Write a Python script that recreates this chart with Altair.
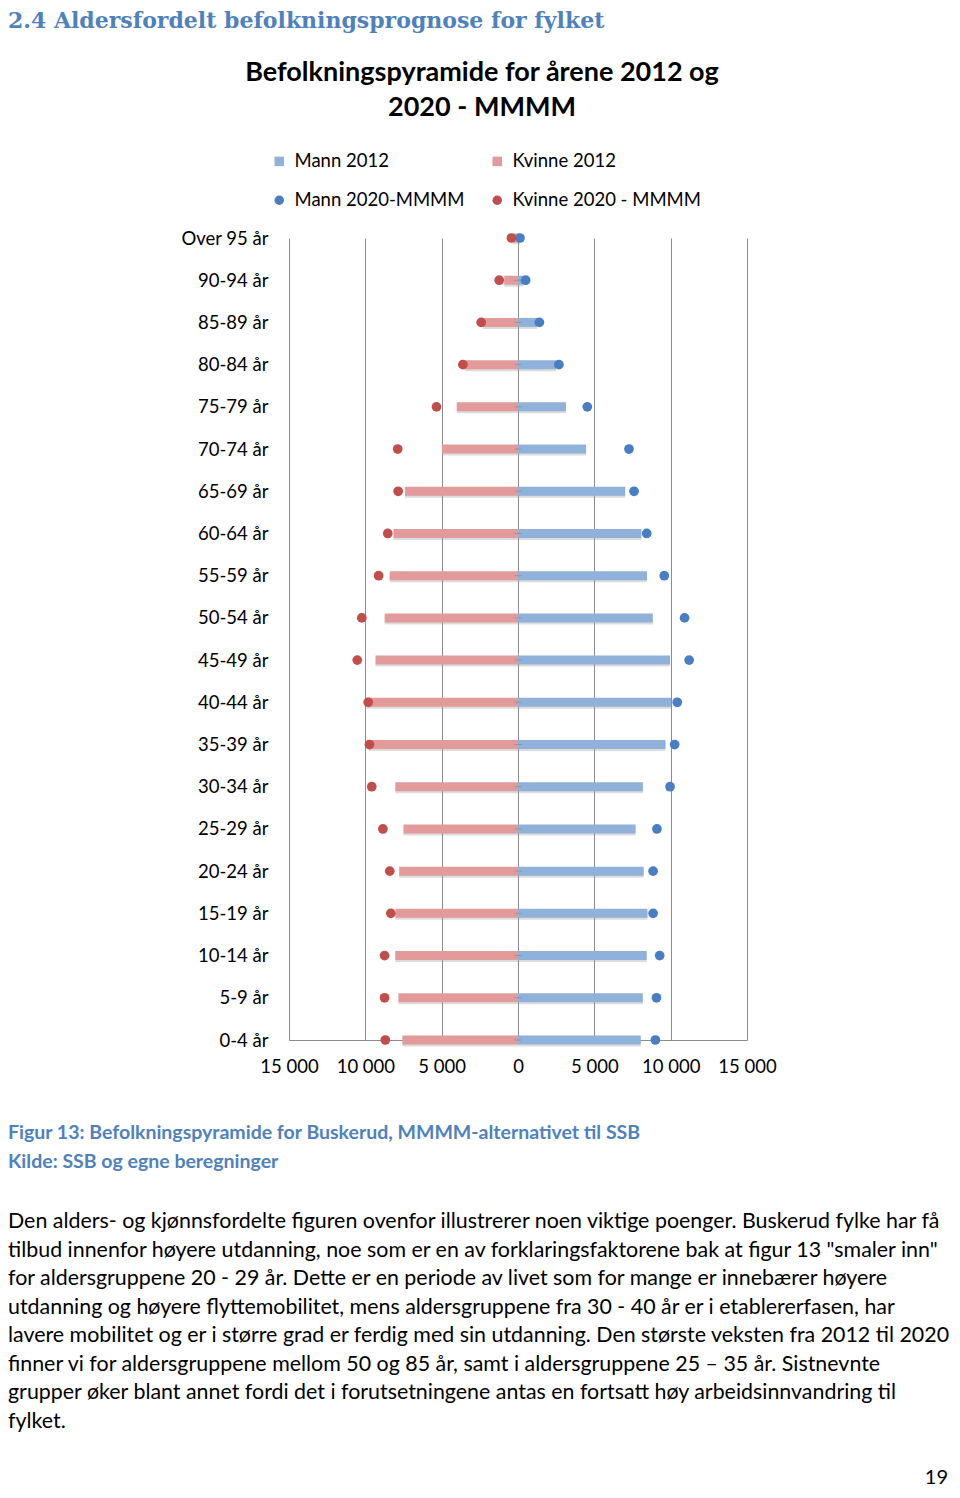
import altair as alt
import pandas as pd

ages = ["0-4 år", "5-9 år", "10-14 år", "15-19 år", "20-24 år", "25-29 år", "30-34 år",
        "35-39 år", "40-44 år", "45-49 år", "50-54 år", "55-59 år", "60-64 år", "65-69 år",
        "70-74 år", "75-79 år", "80-84 år", "85-89 år", "90-94 år", "Over 95 år"]
mann_2012 = [8040, 8170, 8430, 8480, 8230, 7700, 8180, 9660, 10030, 9960,
             8830, 8450, 8080, 7020, 4460, 3140, 2500, 1250, 350, 120]
kvinne_2012 = [7570, 7830, 8040, 8030, 7780, 7500, 8030, 9780, 9900, 9330,
               8730, 8400, 8150, 7400, 4970, 4010, 3500, 2300, 900, 350]
mann_2020 = [9000, 9070, 9280, 8850, 8850, 9100, 9960, 10260, 10430, 11210,
             10910, 9580, 8430, 7600, 7270, 4540, 2680, 1400, 500, 130]
kvinne_2020 = [8690, 8740, 8740, 8330, 8400, 8850, 9580, 9730, 9810, 10530,
               10230, 9130, 8530, 7850, 7880, 5340, 3610, 2410, 1230, 430]

# legend order (filled column by column: Mann 2012 / Mann 2020, then Kvinne 2012 / Kvinne 2020)
series = ["Mann 2012", "Mann 2020-MMMM", "Kvinne 2012", "Kvinne 2020 - MMMM"]
colors = ["#8FB1DA", "#4A7EC4", "#E39A9B", "#C24E4C"]
shapes = ["square", "circle", "square", "circle"]

heading = "2.4 Aldersfordelt befolkningsprognose for fylket"
title_lines = ["Befolkningspyramide for årene 2012 og", "2020 - MMMM"]
caption_lines = ["Figur 13: Befolkningspyramide for Buskerud, MMMM-alternativet til SSB",
                 "Kilde: SSB og egne beregninger"]
paragraph = [
    "Den alders- og kjønnsfordelte figuren ovenfor illustrerer noen viktige poenger. Buskerud fylke har få",
    "tilbud innenfor høyere utdanning, noe som er en av forklaringsfaktorene bak at figur 13 \"smaler inn\"",
    "for aldersgruppene 20 - 29 år. Dette er en periode av livet som for mange er innebærer høyere",
    "utdanning og høyere flyttemobilitet, mens aldersgruppene fra 30 - 40 år er i etablererfasen, har",
    "lavere mobilitet og er i større grad er ferdig med sin utdanning. Den største veksten fra 2012 til 2020",
    "finner vi for aldersgruppene mellom 50 og 85 år, samt i aldersgruppene 25 – 35 år. Sistnevnte",
    "grupper øker blant annet fordi det i forutsetningene antas en fortsatt høy arbeidsinnvandring til",
    "fylket.",
]
page_number = "19"

FONT = "Lato"
BLUE_TXT = "#4F81BD"
LBL = 18.5

rows = []
for i, a in enumerate(ages):
    rows.append({"age": a, "series": "Mann 2012", "value": mann_2012[i], "kind": "bar"})
    rows.append({"age": a, "series": "Kvinne 2012", "value": -kvinne_2012[i], "kind": "bar"})
    rows.append({"age": a, "series": "Mann 2020-MMMM", "value": mann_2020[i], "kind": "dot"})
    rows.append({"age": a, "series": "Kvinne 2020 - MMMM", "value": -kvinne_2020[i], "kind": "dot"})
df = pd.DataFrame(rows)
bars_df = df[df.kind == "bar"]
dots_df = df[df.kind == "dot"]

W, H = 458, 802
PAD_L, PAD_T = 281, 230

xscale = alt.Scale(domain=[-15000, 15000], nice=False)
yscale = alt.Scale(type="point", domain=ages[::-1], padding=0)

x_enc = alt.X("value:Q", scale=xscale,
              axis=alt.Axis(values=[-15000, -10000, -5000, 0, 5000, 10000, 15000],
                            labelExpr="replace(format(abs(datum.value), ','), ',', ' ')",
                            title=None, grid=True, gridColor="#8C8C8C", ticks=False,
                            domainColor="#8C8C8C", labelFont=FONT, labelFontSize=LBL,
                            labelColor="#000000", labelPadding=17, labelFlush=False))
y_enc = alt.Y("age:N", scale=yscale, sort=ages[::-1],
              axis=alt.Axis(title=None, ticks=False, domain=False, grid=False,
                            labelFont=FONT, labelFontSize=LBL, labelColor="#000000",
                            labelPadding=21))
color_scale = alt.Scale(domain=series, range=colors)
legend = alt.Legend(title=None, orient="none", legendX=-19, legendY=-86,
                    columns=2, columnPadding=23, rowPadding=20, labelLimit=400,
                    labelFont=FONT, labelFontSize=LBL, labelColor="#000000",
                    symbolSize=90, labelOffset=6)

shadow = alt.Chart(bars_df).mark_bar(size=9, yOffset=2, color="#9A9A9A", opacity=0.35).encode(
    x=alt.X("value:Q", scale=xscale), y=alt.Y("age:N", scale=yscale, sort=ages[::-1]))

bars = alt.Chart(bars_df).mark_bar(size=9).encode(
    x=x_enc, y=y_enc,
    color=alt.Color("series:N", scale=color_scale, legend=legend),
)

zero_ticks = alt.Chart(pd.DataFrame({"age": ages})).mark_tick(
    orient="horizontal", size=7, thickness=1, color="#8C8C8C").encode(
    x=alt.datum(0), y=alt.Y("age:N", scale=yscale, sort=ages[::-1]))

dots = alt.Chart(dots_df).mark_point(filled=True, opacity=1, size=95).encode(
    x=alt.X("value:Q", scale=xscale), y=alt.Y("age:N", scale=yscale, sort=ages[::-1]),
    color=alt.Color("series:N", scale=color_scale, legend=legend),
    shape=alt.Shape("series:N", scale=alt.Scale(domain=series, range=shapes), legend=legend),
)

def txt(text, x, y, size, color="#000000", weight="normal", align="left", font=FONT,
        baseline="middle", **kw):
    return alt.Chart(pd.DataFrame({"t": [text]})).mark_text(
        align=align, baseline=baseline, font=font, fontSize=size, color=color,
        fontWeight=weight, **kw).encode(x=alt.value(x), y=alt.value(y), text="t:N")

texts = [
    txt(heading, -281, -227, 22, color=BLUE_TXT, weight="bold", font="DejaVu Serif",
        baseline="top"),
    txt(title_lines[0], 193, -165, 27, weight="bold", align="center"),
    txt(title_lines[1], 193, -130, 27, weight="bold", align="center"),
    txt(caption_lines[0], -281, 895, 19.5, color=BLUE_TXT, weight="bold"),
    txt(caption_lines[1], -281, 924, 19.5, color=BLUE_TXT, weight="bold"),
    txt("\n".join(paragraph), -281, 973, 21.4, baseline="top", lineBreak="\n", lineHeight=28.5),
    txt(page_number, 659, 1240, 20, align="right"),
]

chart = alt.layer(shadow, bars, zero_ticks, dots, *texts).properties(
    width=W, height=H,
    autosize=alt.AutoSizeParams(type="none"),
    padding={"left": PAD_L, "top": PAD_T, "right": 944 - PAD_L - W, "bottom": 1482 - PAD_T - H},
).configure(background="#ffffff", view=alt.ViewConfig(stroke=None))

chart.save("out.html", embed_options={"renderer": "svg", "actions": False})
